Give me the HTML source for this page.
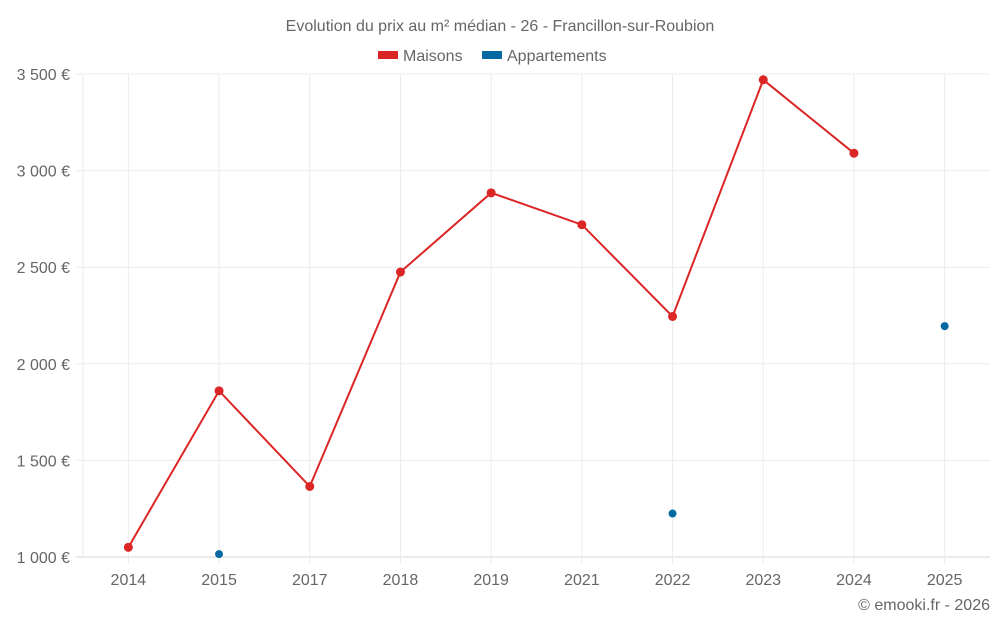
<!DOCTYPE html>
<html><head><meta charset="utf-8"><style>
body{margin:0;background:#fff;width:1000px;height:625px;overflow:hidden}
svg text{font-family:"Liberation Sans",sans-serif;fill:#666}
</style></head><body>
<svg id="chart" width="1000" height="625">
<text x="500" y="31" text-anchor="middle" font-size="16">Evolution du prix au m² médian - 26 - Francillon-sur-Roubion</text>
<g>
<g><rect x="378" y="51" width="20" height="8" fill="#dc2626"/><text x="403" y="61" font-size="16">Maisons</text></g>
<g><rect x="482" y="51" width="20" height="8" fill="#0369a1"/><text x="507" y="61" font-size="16">Appartements</text></g>
</g>
<g id="grid"></g><g id="axes"></g><g id="marks"></g>
<text x="990" y="610" text-anchor="end" font-size="16">© emooki.fr - 2026</text>
</svg>
<script>
const categories=["2014","2015","2017","2018","2019","2021","2022","2023","2024","2025"];
const maisons=[1050,1860,1365,2475,2885,2720,2245,3470,3090,null];
const appartements=[null,1015,null,null,null,null,1225,null,null,2195];
const yTicks=[1000,1500,2000,2500,3000,3500];
const yTickLabels=["1 000 €","1 500 €","2 000 €","2 500 €","3 000 €","3 500 €"];
const L=83,R=990,T=74,B=557,ymin=1000,ymax=3500;
const bw=(R-L)/categories.length;
const x=i=>L+bw*(i+0.5);
const y=v=>B-(v-ymin)/(ymax-ymin)*(B-T);
const NS="http://www.w3.org/2000/svg";
function mk(p,tag,at){const e=document.createElementNS(NS,tag);for(const k in at)e.setAttribute(k,at[k]);document.getElementById(p).appendChild(e);return e;}
let g=mk('grid','line',{x1:L,x2:L,y1:T,y2:B,stroke:'#ebebeb'});


yTicks.forEach((v,i)=>{
 const l=mk('grid','line',{x1:76,x2:R,y1:y(v),y2:y(v),stroke:i==0?'#d6d6d6':'#ebebeb'});
 
 
 const t=mk('axes','text',{x:70,y:y(v)+6,'text-anchor':'end','font-size':16});
 t.textContent=yTickLabels[i];
 
 
});
categories.forEach((c,i)=>{
 const l=mk('grid','line',{x1:x(i),x2:x(i),y1:T,y2:B+7,stroke:'#ebebeb'});
 
 
 const t=mk('axes','text',{x:x(i),y:585,'text-anchor':'middle','font-size':16});
 t.textContent=c;
 
 
});
let d='';maisons.forEach((v,i)=>{if(v!=null)d+=(d?'L':'M')+x(i)+','+y(v);});
const pl=mk('marks','path',{d:d,fill:'none',stroke:'#dc2626','stroke-width':2});


maisons.forEach((v,i)=>{if(v==null)return;
 const c=mk('marks','circle',{cx:x(i),cy:y(v),r:4.5,fill:'#dc2626'});
 
 
});
appartements.forEach((v,i)=>{if(v==null)return;
 const c=mk('marks','circle',{cx:x(i),cy:y(v),r:4,fill:'#0369a1'});
 
 
});
</script>
</body></html>
